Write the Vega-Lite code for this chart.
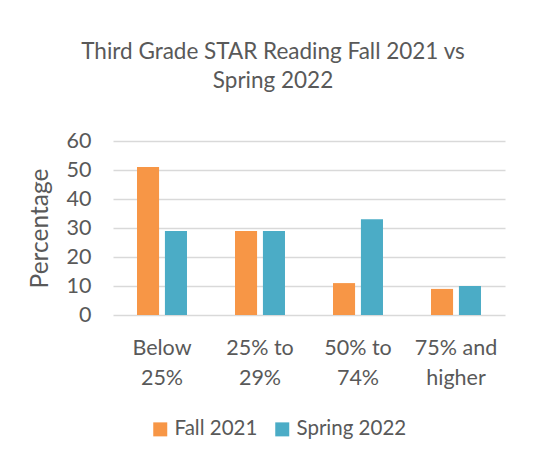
{
  "$schema": "https://vega.github.io/schema/vega-lite/v6.json",
  "autosize": "none",
  "width": 392,
  "height": 174,
  "padding": {"left": 113, "top": 141, "right": 32, "bottom": 144},
  "background": "white",
  "title": {
    "text": ["Third Grade STAR Reading Fall 2021 vs", "Spring 2022"],
    "font": "Lato",
    "fontSize": 22.5,
    "fontWeight": "normal",
    "color": "#595959",
    "lineHeight": 29,
    "anchor": "middle",
    "dx": -36,
    "offset": 38
  },
  "data": {
    "values": [
      {"category": "Below 25%", "series": "Fall 2021", "value": 51},
      {"category": "Below 25%", "series": "Spring 2022", "value": 29},
      {"category": "25% to 29%", "series": "Fall 2021", "value": 29},
      {"category": "25% to 29%", "series": "Spring 2022", "value": 29},
      {"category": "50% to 74%", "series": "Fall 2021", "value": 11},
      {"category": "50% to 74%", "series": "Spring 2022", "value": 33},
      {"category": "75% and higher", "series": "Fall 2021", "value": 9},
      {"category": "75% and higher", "series": "Spring 2022", "value": 10}
    ]
  },
  "mark": {"type": "bar"},
  "encoding": {
    "x": {
      "field": "category",
      "type": "nominal",
      "sort": null,
      "scale": {"paddingInner": 0.49, "paddingOuter": 0.245},
      "axis": {
        "title": null,
        "labelAngle": 0,
        "domain": false,
        "ticks": false,
        "labelFont": "Lato",
        "labelFontSize": 21.5,
        "labelColor": "#595959",
        "labelPadding": 22,
        "labelLineHeight": 30,
        "labelExpr": "datum.value == 'Below 25%' ? ['Below', '25%'] : datum.value == '25% to 29%' ? ['25% to', '29%'] : datum.value == '50% to 74%' ? ['50% to', '74%'] : ['75% and', 'higher']"
      }
    },
    "xOffset": {
      "field": "series",
      "type": "nominal",
      "scale": {"paddingInner": 0.21}
    },
    "y": {
      "field": "value",
      "type": "quantitative",
      "scale": {"domain": [0, 60]},
      "axis": {
        "title": "Percentage",
        "titleFont": "Lato",
        "titleFontSize": 24.5,
        "titleFontWeight": "normal",
        "titleColor": "#595959",
        "titlePadding": 14,
        "values": [0, 10, 20, 30, 40, 50, 60],
        "domain": false,
        "ticks": false,
        "grid": true,
        "gridColor": "#D9D9D9",
        "gridWidth": 1.5,
        "labelFont": "Lato",
        "labelFontSize": 21.5,
        "labelColor": "#595959",
        "labelPadding": 22
      }
    },
    "color": {
      "field": "series",
      "type": "nominal",
      "scale": {"domain": ["Fall 2021", "Spring 2022"], "range": ["#F79646", "#4BACC6"]},
      "legend": {
        "title": null,
        "orient": "none",
        "legendX": 37,
        "legendY": 278,
        "direction": "horizontal",
        "symbolType": "square",
        "symbolSize": 196,
        "symbolStrokeWidth": 0,
        "labelFont": "Lato",
        "labelFontSize": 20.5,
        "labelColor": "#595959",
        "labelOffset": 4,
        "columnPadding": 14
      }
    }
  },
  "config": {"view": {"stroke": null}}
}
